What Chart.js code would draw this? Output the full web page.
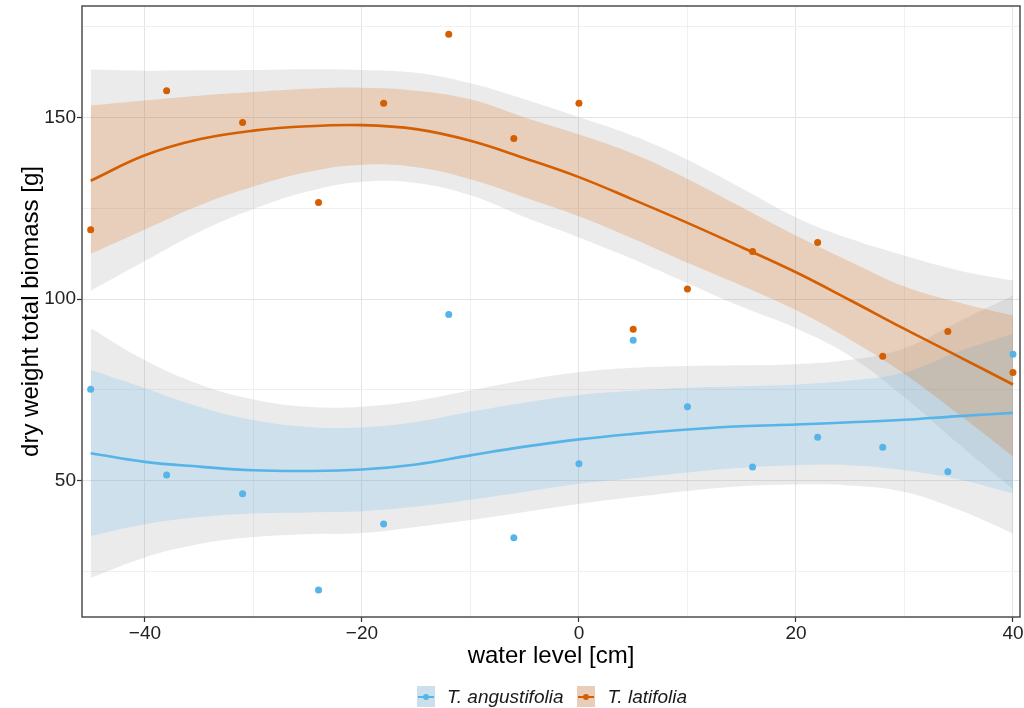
<!DOCTYPE html>
<html lang="en">
<head>
<meta charset="utf-8">
<title>Dry weight total biomass by water level</title>
<script src="https://cdn.jsdelivr.net/npm/chart.js@4.4.1/dist/chart.umd.min.js"></script>
<style>
  html, body { margin: 0; padding: 0; background: #ffffff; }
  .wrap { position: relative; width: 1024px; height: 708px; overflow: hidden; }
  canvas { display: block; }
  .legend {
    position: absolute; left: 82px; right: 2px; top: 686px;
    display: flex; justify-content: center; align-items: center; gap: 14px;
    font-family: "Liberation Sans", Arial, sans-serif; font-style: italic;
    font-size: 19px; line-height: 21px; color: #1a1a1a;
  }
  .legend-item { display: flex; align-items: center; gap: 12px; }
  .legend-key { position: relative; width: 18px; height: 21px; }
  .legend-key .ln { position: absolute; left: 1px; right: 1px; top: 9.5px; height: 2px; }
  .legend-key .dot { position: absolute; left: 6px; top: 7.5px; width: 6px; height: 6px; border-radius: 50%; }
</style>
</head>
<body>
<div class="wrap">
  <canvas id="chart" width="1024" height="708"></canvas>
  <div class="legend" id="legend"></div>
</div>
<script>
  // observations
  const obsX = [-45, -38, -31, -24, -18, -12, -6, 0, 5, 10, 16, 22, 28, 34, 40];
  const angustifoliaY = [75.2, 51.6, 46.4, 19.9, 38.1, 95.8, 34.3, 54.7, 88.7, 70.4, 53.8, 62.0, 59.2, 52.5, 84.8];
  const latifoliaY = [119.1, 157.4, 148.6, 126.6, 153.9, 172.9, 144.2, 153.9, 91.7, 102.8, 113.1, 115.6, 84.3, 91.1, 79.8];

  // smooth curves
  const fitX = [-45, -40, -35, -30, -25, -20, -15, -10, -5, 0, 5, 10, 15, 20, 25, 30, 35, 40];

  const latFit = [132.6, 139.6, 144.0, 146.4, 147.6, 147.9, 146.8, 143.6, 138.8, 133.6, 127.4, 121.0, 114.3, 107.4, 99.7, 91.8, 84.2, 76.5];
  const latHi = [153.3, 154.7, 156.0, 157.0, 157.9, 158.2, 157.4, 155.0, 150.0, 145.3, 140.0, 133.1, 125.3, 117.5, 110.3, 103.5, 99.1, 95.5];
  const latLo = [112.5, 119.2, 125.8, 131.0, 135.0, 137.0, 136.3, 133.0, 128.0, 122.8, 116.6, 110.0, 103.7, 97.0, 88.8, 79.4, 68.3, 56.7];
  const latOuterHi = [163.2, 162.9, 163.0, 163.1, 163.3, 163.1, 162.3, 159.4, 155.0, 150.1, 145.0, 138.4, 130.5, 122.5, 116.6, 112.0, 107.9, 105.1];
  const latOuterLo = [102.3, 110.5, 118.5, 124.8, 129.6, 132.3, 132.0, 128.6, 122.6, 117.0, 111.0, 104.4, 97.9, 92.0, 84.3, 73.0, 60.1, 47.7];

  const angFit = [57.6, 55.2, 53.9, 52.9, 52.7, 53.1, 54.5, 57.0, 59.4, 61.4, 62.9, 64.1, 65.0, 65.5, 66.1, 66.8, 67.8, 68.7];
  const angHi = [80.5, 75.5, 70.4, 66.7, 64.8, 64.7, 66.2, 69.0, 71.5, 73.6, 74.8, 75.6, 76.0, 76.5, 77.6, 79.8, 85.6, 90.5];
  const angLo = [34.8, 38.0, 40.0, 41.0, 41.3, 41.6, 42.9, 44.8, 47.0, 49.2, 50.7, 52.3, 53.6, 54.3, 54.3, 52.9, 50.4, 46.5];
  const angOuterHi = [92.0, 83.2, 76.6, 72.4, 70.4, 70.4, 72.0, 74.9, 77.7, 79.9, 81.1, 81.6, 81.8, 82.1, 83.3, 86.5, 93.8, 101.0];
  const angOuterLo = [23.3, 28.9, 32.6, 34.5, 35.3, 35.6, 37.3, 39.2, 41.4, 43.6, 45.5, 47.2, 48.5, 49.0, 48.7, 46.9, 42.0, 35.5];

  const xTicks = [-40, -30, -20, -10, 0, 10, 20, 30, 40];
  const yTicks = [25, 50, 75, 100, 125, 150, 175];

  const BLUE = "#56B4E9";
  const ORANGE = "#D55E00";
  const GREY_BAND = "rgba(153, 153, 153, 0.2)";
  const FONT = "'Liberation Sans', Arial, sans-serif";

  const series = [
    { label: "T. angustifolia", color: BLUE, band: "rgba(86, 180, 233, 0.2)", key: "#cbe0ec" },
    { label: "T. latifolia", color: ORANGE, band: "rgba(213, 94, 0, 0.2)", key: "#e9cdb8" }
  ];

  const toPoints = (xs, ys) => xs.map((x, i) => ({ x, y: ys[i] }));
  const minus = (v) => String(v).replace("-", "\u2212");

  function band(upper, lower, color, order) {
    const common = {
      borderWidth: 0,
      borderColor: "transparent",
      pointRadius: 0,
      tension: 0.4,
      order
    };
    return [
      { ...common, data: toPoints(fitX, upper), fill: "+1", backgroundColor: color },
      { ...common, data: toPoints(fitX, lower), fill: false }
    ];
  }

  function fitLine(values, color) {
    return {
      data: toPoints(fitX, values),
      borderColor: color,
      borderWidth: 2.6,
      pointRadius: 0,
      fill: false,
      tension: 0.4,
      order: 4
    };
  }

  function scatter(values, color) {
    return {
      data: toPoints(obsX, values),
      showLine: false,
      pointRadius: 3.5,
      pointBorderWidth: 0,
      pointBackgroundColor: color,
      borderColor: color,
      order: 1
    };
  }

  const datasets = [
    ...band(latOuterHi, latOuterLo, GREY_BAND, 10),
    ...band(angOuterHi, angOuterLo, GREY_BAND, 10),
    ...band(latHi, latLo, series[1].band, 8),
    ...band(angHi, angLo, series[0].band, 8),
    fitLine(latFit, ORANGE),
    fitLine(angFit, BLUE),
    scatter(latifoliaY, ORANGE),
    scatter(angustifoliaY, BLUE)
  ];

  const panelBorder = {
    id: "panelBorder",
    afterDatasetsDraw(chart) {
      const { ctx, chartArea: a } = chart;
      ctx.save();
      ctx.strokeStyle = "#4d4d4d";
      ctx.lineWidth = 1.5;
      ctx.strokeRect(a.left, a.top, a.right - a.left, a.bottom - a.top);
      ctx.restore();
    }
  };

  const gridColor = (major) => (ctx) => (major(ctx.tick?.value) ? "#e4e4e4" : "#f0f0f0");
  const tickColor = (major) => (ctx) => (major(ctx.tick?.value) ? "#333333" : "rgba(0,0,0,0)");
  const isMajorX = (v) => v % 20 === 0;
  const isMajorY = (v) => v % 50 === 0;

  new Chart(document.getElementById("chart"), {
    type: "line",
    data: { datasets },
    options: {
      responsive: false,
      animation: false,
      layout: { padding: { top: 6, right: 0, left: 0, bottom: 37 } },
      plugins: {
        legend: { display: false },
        tooltip: { enabled: false }
      },
      scales: {
        x: {
          type: "linear",
          min: -45.8,
          max: 40.65,
          afterBuildTicks(scale) {
            scale.ticks = xTicks.map((value) => ({ value }));
          },
          afterFit(scale) {
            scale.height = 54;
            scale.paddingLeft = 0;
            scale.paddingRight = 0;
          },
          border: { display: false },
          grid: { color: gridColor(isMajorX), lineWidth: 1, tickLength: 5, tickColor: tickColor(isMajorX), tickWidth: 1.2 },
          ticks: {
            autoSkip: false,
            maxRotation: 0,
            padding: 0,
            color: "#222222",
            font: { family: FONT, size: 19 },
            callback: (value) => (isMajorX(value) ? minus(value) : "")
          },
          title: {
            display: true,
            text: "water level [cm]",
            color: "#000000",
            font: { family: FONT, size: 24 },
            padding: { top: 0, bottom: 0 }
          }
        },
        y: {
          type: "linear",
          min: 12.5,
          max: 180.7,
          afterBuildTicks(scale) {
            scale.ticks = yTicks.map((value) => ({ value }));
          },
          afterFit(scale) {
            scale.width = 82;
            scale.paddingTop = 0;
            scale.paddingBottom = 0;
          },
          border: { display: false },
          grid: { color: gridColor(isMajorY), lineWidth: 1, tickLength: 5, tickColor: tickColor(isMajorY), tickWidth: 1.2 },
          ticks: {
            autoSkip: false,
            padding: 1,
            color: "#222222",
            font: { family: FONT, size: 19 },
            callback: (value) => (isMajorY(value) ? String(value) : "")
          },
          title: {
            display: true,
            text: "dry weight total biomass [g]",
            color: "#000000",
            font: { family: FONT, size: 24 },
            padding: { top: 17, bottom: 0 }
          }
        }
      }
    },
    plugins: [panelBorder]
  });

  // legend below the panel, drawn as html
  const legend = document.getElementById("legend");
  series.forEach((s) => {
    const item = document.createElement("div");
    item.className = "legend-item";
    const key = document.createElement("span");
    key.className = "legend-key";
    key.style.background = s.key;
    const ln = document.createElement("span");
    ln.className = "ln";
    ln.style.background = s.color;
    const dot = document.createElement("span");
    dot.className = "dot";
    dot.style.background = s.color;
    key.append(ln, dot);
    const text = document.createElement("span");
    text.textContent = s.label;
    item.append(key, text);
    legend.append(item);
  });
</script>
</body>
</html>
